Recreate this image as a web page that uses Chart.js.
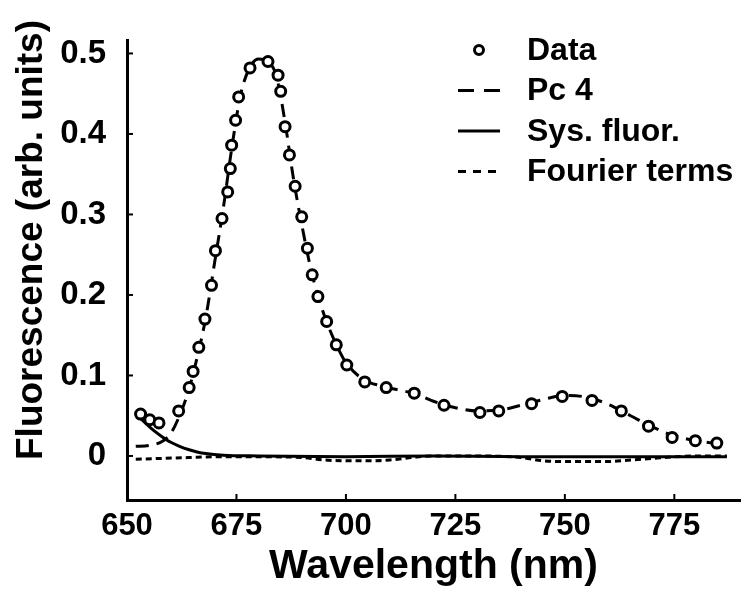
<!DOCTYPE html>
<html>
<head>
<meta charset="utf-8">
<script src="https://cdn.jsdelivr.net/npm/chart.js@4.4.0/dist/chart.umd.min.js"></script>
<style>
  html, body { margin: 0; padding: 0; background: #fff; }
</style>
</head>
<body>
<canvas id="fluorChart" width="748" height="595"></canvas>
<script>
// Dados medidos (círculos)
const dadosNm = [653.1, 655.2, 657.3, 661.8, 664.2, 665.1, 666.4, 667.8, 669.3, 670.2,
    671.7, 673.0, 673.6, 673.9, 674.8, 675.5, 678.1, 682.2, 684.5, 685.1,
    686.1, 687.1, 688.4, 689.9, 691.2, 692.3, 693.6, 695.6, 697.8, 700.2,
    704.3, 709.2, 715.6, 722.4, 730.6, 734.9, 742.4, 749.4, 756.2, 762.9,
    769.1, 774.5, 779.8, 784.7];
const dadosFluor = [0.052, 0.045, 0.041, 0.056, 0.085, 0.105, 0.135, 0.170, 0.212, 0.255,
    0.295, 0.328, 0.357, 0.386, 0.417, 0.446, 0.482, 0.490, 0.473, 0.453,
    0.409, 0.374, 0.335, 0.297, 0.258, 0.225, 0.198, 0.167, 0.138, 0.113,
    0.092, 0.085, 0.078, 0.063, 0.054, 0.056, 0.065, 0.074, 0.069, 0.056,
    0.037, 0.023, 0.019, 0.016];

// Componente Pc 4 (tracejado)
const pc4Nm = [652, 655, 658, 660, 662, 664, 666, 668, 670, 672, 674, 676, 678, 680, 682,
    684, 686, 688, 690, 692, 694, 696, 698, 700, 704, 708, 712, 716, 720, 725,
    730, 735, 740, 745, 750, 755, 760, 765, 770, 775, 780, 785];
const pc4Val = [0.012, 0.013, 0.018, 0.028, 0.050, 0.080, 0.122, 0.172, 0.240, 0.308, 0.385, 0.450, 0.482, 0.493, 0.490,
    0.474, 0.418, 0.345, 0.285, 0.232, 0.192, 0.161, 0.136, 0.116, 0.095, 0.087, 0.082, 0.077, 0.068, 0.060,
    0.056, 0.057, 0.063, 0.070, 0.075, 0.073, 0.064, 0.050, 0.036, 0.025, 0.019, 0.015];

// Fluorescência do sistema (linha cheia)
const sysNm = [652, 654, 656, 658, 660, 662, 664, 666, 668, 672, 680, 700, 720, 740, 760, 787];
const sysVal = [0.052, 0.042, 0.032, 0.024, 0.017, 0.012, 0.008, 0.005, 0.003, 0.001, 0.0, -0.001, 0.0, -0.001, -0.001, -0.001];

// Termos de Fourier (pontilhado)
const fourierNm = [652, 658, 664, 670, 680, 690, 695, 700, 705, 710, 715, 720, 730, 740, 745, 750, 755, 760, 765, 770, 775, 780, 787];
const fourierVal = [-0.004, -0.003, -0.002, -0.001, -0.001, -0.002, -0.005, -0.006, -0.006, -0.005, -0.002, 0.0, 0.0, -0.002, -0.006, -0.007, -0.007, -0.007, -0.005, -0.003, -0.001, 0.0, 0.0];

const ticksX = [650, 675, 700, 725, 750, 775];
const ticksY = [0, 0.1, 0.2, 0.3, 0.4, 0.5];

const fonte = "'Liberation Sans', Arial, sans-serif";

function pares(xs, ys) {
    return xs.map((x, i) => ({ x: x, y: ys[i] }));
}

// Marcas dos eixos voltadas para dentro
const marcasInternas = {
    id: 'marcasInternas',
    afterDatasetsDraw(chart) {
        const { ctx, chartArea, scales } = chart;
        ctx.save();
        ctx.strokeStyle = '#000';
        ctx.lineWidth = 2;
        scales.x.ticks.forEach(t => {
            const px = scales.x.getPixelForValue(t.value);
            ctx.beginPath();
            ctx.moveTo(px, chartArea.bottom);
            ctx.lineTo(px, chartArea.bottom - 6);
            ctx.stroke();
        });
        scales.y.ticks.forEach(t => {
            const py = scales.y.getPixelForValue(t.value);
            ctx.beginPath();
            ctx.moveTo(chartArea.left, py);
            ctx.lineTo(chartArea.left + 6, py);
            ctx.stroke();
        });
        ctx.restore();
    }
};

// Título do eixo y (um pouco acima do centro, como no original)
const tituloY = {
    id: 'tituloY',
    afterDraw(chart, args, opts) {
        const ctx = chart.ctx;
        ctx.save();
        ctx.translate(opts.x, opts.y);
        ctx.rotate(-Math.PI / 2);
        ctx.font = 'bold ' + opts.tamanho + 'px ' + fonte;
        ctx.fillStyle = '#000';
        ctx.textAlign = 'center';
        ctx.textBaseline = 'middle';
        ctx.fillText(opts.texto, 0, 0);
        ctx.restore();
    }
};

// Legenda desenhada dentro da área do gráfico
const legendaInterna = {
    id: 'legendaInterna',
    afterDraw(chart, args, opts) {
        const ctx = chart.ctx;
        ctx.save();
        ctx.font = 'bold ' + opts.tamanho + 'px ' + fonte;
        ctx.textBaseline = 'middle';
        ctx.fillStyle = '#000';
        chart.data.datasets.forEach((ds, i) => {
            const y = opts.y + i * opts.espaco;
            const x0 = opts.x;
            const x1 = opts.x + opts.largura;
            ctx.strokeStyle = '#000';
            ctx.lineWidth = ds.borderWidth;
            if (!ds.showLine) {
                ctx.beginPath();
                ctx.arc((x0 + x1) / 2, y, 4.5, 0, Math.PI * 2);
                ctx.stroke();
            } else {
                ctx.setLineDash(ds.legendaDash || []);
                ctx.beginPath();
                ctx.moveTo(x0, y);
                ctx.lineTo(x1, y);
                ctx.stroke();
                ctx.setLineDash([]);
            }
            ctx.fillText(ds.label, opts.xTexto, y + 1);
        });
        ctx.restore();
    }
};

function inicializarGrafico() {
    const ctx = document.getElementById('fluorChart').getContext('2d');
    new Chart(ctx, {
        type: 'scatter',
        data: {
            datasets: [{
                label: 'Data',
                data: pares(dadosNm, dadosFluor),
                showLine: false,
                pointRadius: 5,
                pointBorderWidth: 3,
                borderWidth: 3,
                borderColor: '#000',
                backgroundColor: '#fff',
                pointBackgroundColor: '#fff'
            }, {
                label: 'Pc 4',
                data: pares(pc4Nm, pc4Val),
                showLine: true,
                pointRadius: 0,
                borderColor: '#000',
                borderWidth: 3,
                borderDash: [13, 8],
                legendaDash: [16, 10],
                cubicInterpolationMode: 'monotone'
            }, {
                label: 'Sys. fluor.',
                data: pares(sysNm, sysVal),
                showLine: true,
                pointRadius: 0,
                borderColor: '#000',
                borderWidth: 3,
                cubicInterpolationMode: 'monotone'
            }, {
                label: 'Fourier terms',
                data: pares(fourierNm, fourierVal),
                showLine: true,
                pointRadius: 0,
                borderColor: '#000',
                borderWidth: 3,
                borderDash: [6, 4],
                legendaDash: [8, 7],
                cubicInterpolationMode: 'monotone'
            }]
        },
        options: {
            responsive: false,
            animation: false,
            layout: {
                padding: { top: 40, right: 0, left: 0, bottom: 0 }
            },
            plugins: {
                legend: { display: false },
                tooltip: { enabled: false },
                legendaInterna: {
                    x: 458, y: 50, espaco: 40.5, largura: 42, xTexto: 527, tamanho: 32
                },
                tituloY: {
                    texto: 'Fluorescence (arb. units)', x: 32, y: 240, tamanho: 37
                }
            },
            scales: {
                x: {
                    type: 'linear',
                    min: 650,
                    max: 790,
                    border: { color: '#000', width: 3 },
                    grid: { display: false },
                    ticks: {
                        includeBounds: false,
                        color: '#000',
                        padding: 0,
                        maxRotation: 0,
                        font: { family: fonte, size: 31, weight: 'bold' }
                    },
                    title: {
                        display: true,
                        text: 'Wavelength (nm)',
                        color: '#000',
                        font: { family: fonte, size: 41, weight: 'bold' },
                        padding: { top: 0, bottom: 4 }
                    },
                    afterBuildTicks: s => { s.ticks = ticksX.map(v => ({ value: v })); },
                    afterFit: s => { s.height = 95; }
                },
                y: {
                    min: -0.0547,
                    max: 0.5167,
                    border: { color: '#000', width: 3 },
                    grid: { display: false },
                    ticks: {
                        includeBounds: false,
                        color: '#000',
                        padding: 13,
                        font: { family: fonte, size: 33, weight: 'bold' },
                        callback: v => v === 0 ? '0' : v.toFixed(1)
                    },
                    afterBuildTicks: s => { s.ticks = ticksY.map(v => ({ value: v })); },
                    afterFit: s => { s.width = 127; }
                }
            }
        },
        plugins: [marcasInternas, tituloY, legendaInterna]
    });
}

inicializarGrafico();
</script>
</body>
</html>
